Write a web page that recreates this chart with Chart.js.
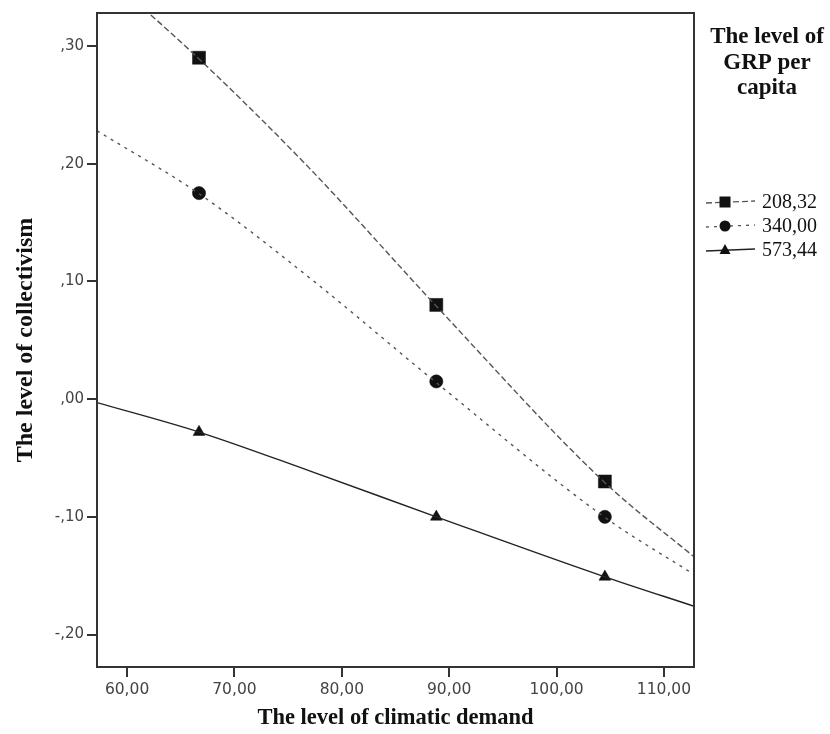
<!DOCTYPE html>
<html>
<head>
<meta charset="utf-8">
<script src="https://cdn.jsdelivr.net/npm/chart.js@4/dist/chart.umd.min.js"></script>
<style>
html,body{margin:0;padding:0;background:#fff;}
#wrap{width:830px;height:734px;position:relative;}
</style>
</head>
<body>
<div id="wrap"><canvas id="c" width="830" height="734"></canvas></div>
<script>
// ---- data ----
const seriesLabels = ['208,32', '340,00', '573,44'];
const climaticDemand = [66.7, 88.8, 104.5];
const grp208 = [0.290, 0.080, -0.070];
const grp340 = [0.175, 0.015, -0.100];
const grp573 = [-0.028, -0.100, -0.151];
// fitted curves
const fitX = [57.2, 66.7, 77.0, 88.8, 104.5, 112.8];
const fit208 = [0.367, 0.289, 0.196, 0.079, -0.071, -0.134];
const fit340 = [0.228, 0.1745, 0.103, 0.014, -0.1005, -0.149];
const fit573 = [-0.003, -0.028, -0.061, -0.100, -0.151, -0.176];
const xTicks = [60, 70, 80, 90, 100, 110];
const yTicks = [-0.2, -0.1, 0, 0.1, 0.2, 0.3];
const legendTitleLines = ['The level of', 'GRP per', 'capita'];

const pts = (xs, ys) => xs.map((x, i) => ({x: x, y: ys[i]}));
const markerStyles = ['rect', 'circle', 'triangle'];
const markerRadius = [9.2, 6.6, 6.8];
const lineDash = [[6, 3], [3, 5], []];
const lineColor = ['#555', '#555', '#222'];
const lineWidth = [1.4, 1.4, 1.4];
const markerData = [grp208, grp340, grp573];
const fitData = [fit208, fit340, fit573];

const datasets = [];
for (let i = 0; i < 3; i++) {
  datasets.push({
    label: seriesLabels[i] + ' fit',
    data: pts(fitX, fitData[i]),
    showLine: true,
    borderColor: lineColor[i],
    borderWidth: lineWidth[i],
    borderDash: lineDash[i],
    pointRadius: 0,
    cubicInterpolationMode: 'monotone',
    fill: false
  });
}
for (let i = 0; i < 3; i++) {
  datasets.push({
    label: seriesLabels[i],
    data: pts(climaticDemand, markerData[i]),
    showLine: false,
    pointStyle: markerStyles[i],
    pointRadius: markerRadius[i],
    pointBackgroundColor: '#111',
    pointBorderColor: '#111',
    pointBorderWidth: 0.5
  });
}

const fmtY = v => {
  const s = Math.abs(v) < 1e-9 ? '0.00' : v.toFixed(2);
  return s.replace('0.', ',');
};
const fmtX = v => v.toFixed(2).replace('.', ',');

const boxPlugin = {
  id: 'box',
  afterDraw(chart) {
    const ctx = chart.ctx, a = chart.chartArea;
    ctx.save();
    ctx.strokeStyle = '#333';
    ctx.lineWidth = 2;
    ctx.strokeRect(a.left, a.top, a.right - a.left, a.bottom - a.top);
    ctx.restore();
  }
};

const legendPlugin = {
  id: 'customLegend',
  afterDraw(chart) {
    const ctx = chart.ctx;
    ctx.save();
    ctx.fillStyle = '#111';
    ctx.textAlign = 'center';
    ctx.textBaseline = 'alphabetic';
    ctx.font = 'bold 23px "Liberation Serif", "Times New Roman", serif';
    const cx = 767;
    const baselines = [43, 69, 94];
    legendTitleLines.forEach((t, i) => ctx.fillText(t, cx, baselines[i]));
    ctx.font = '20px "Liberation Serif", "Times New Roman", serif';
    ctx.textAlign = 'left';
    ctx.textBaseline = 'middle';
    for (let i = 0; i < 3; i++) {
      const y = 202 + i * 24;
      ctx.strokeStyle = lineColor[i];
      ctx.lineWidth = 1.3;
      ctx.setLineDash(lineDash[i]);
      ctx.beginPath();
      ctx.moveTo(706, y + 1);
      ctx.lineTo(755, y - 1);
      ctx.stroke();
      ctx.setLineDash([]);
      ctx.fillStyle = '#111';
      const mx = 725;
      if (markerStyles[i] === 'rect') {
        ctx.fillRect(mx - 5.5, y - 5.5, 11, 11);
      } else if (markerStyles[i] === 'circle') {
        ctx.beginPath(); ctx.arc(mx, y, 5.5, 0, Math.PI * 2); ctx.fill();
      } else {
        ctx.beginPath();
        ctx.moveTo(mx, y - 6); ctx.lineTo(mx + 5.5, y + 4); ctx.lineTo(mx - 5.5, y + 4);
        ctx.closePath(); ctx.fill();
      }
      ctx.fillStyle = '#111';
      ctx.fillText(seriesLabels[i], 762, y + 1);
    }
    ctx.restore();
  }
};

new Chart(document.getElementById('c'), {
  type: 'scatter',
  data: {datasets: datasets},
  plugins: [boxPlugin, legendPlugin],
  options: {
    responsive: false,
    animation: false,
    layout: {padding: {left: 0, right: 136, top: 13, bottom: 0}},
    plugins: {legend: {display: false}, tooltip: {enabled: false}},
    scales: {
      x: {
        type: 'linear',
        min: 57.2, max: 112.8,
        afterBuildTicks: s => { s.ticks = xTicks.map(v => ({value: v})); },
        afterFit: s => { s.height = 67; },
        grid: {drawOnChartArea: false, drawTicks: true, tickLength: 10, color: '#333', lineWidth: 2},
        border: {display: true, color: '#333', width: 2},
        ticks: {
          callback: v => fmtX(v),
          color: '#444',
          padding: 4,
          maxRotation: 0,
          font: {family: '"DejaVu Sans", sans-serif', size: 15.5}
        },
        title: {
          display: true,
          text: 'The level of climatic demand',
          color: '#111',
          font: {family: '"Liberation Serif", "Times New Roman", serif', size: 22.5, weight: 'bold'},
          padding: {top: 0, bottom: 2}
        }
      },
      y: {
        type: 'linear',
        min: -0.2276, max: 0.328,
        afterBuildTicks: s => { s.ticks = yTicks.map(v => ({value: v})); },
        afterFit: s => { s.width = 97; },
        grid: {drawOnChartArea: false, drawTicks: true, tickLength: 10, color: '#333', lineWidth: 2},
        border: {display: true, color: '#333', width: 2},
        ticks: {
          callback: v => fmtY(v),
          color: '#444',
          padding: 3,
          font: {family: '"DejaVu Sans", sans-serif', size: 15}
        },
        title: {
          display: true,
          text: 'The level of collectivism',
          color: '#111',
          font: {family: '"Liberation Serif", "Times New Roman", serif', size: 24, weight: 'bold'},
          padding: {top: 11, bottom: 0}
        }
      }
    }
  }
});
</script>
</body>
</html>
